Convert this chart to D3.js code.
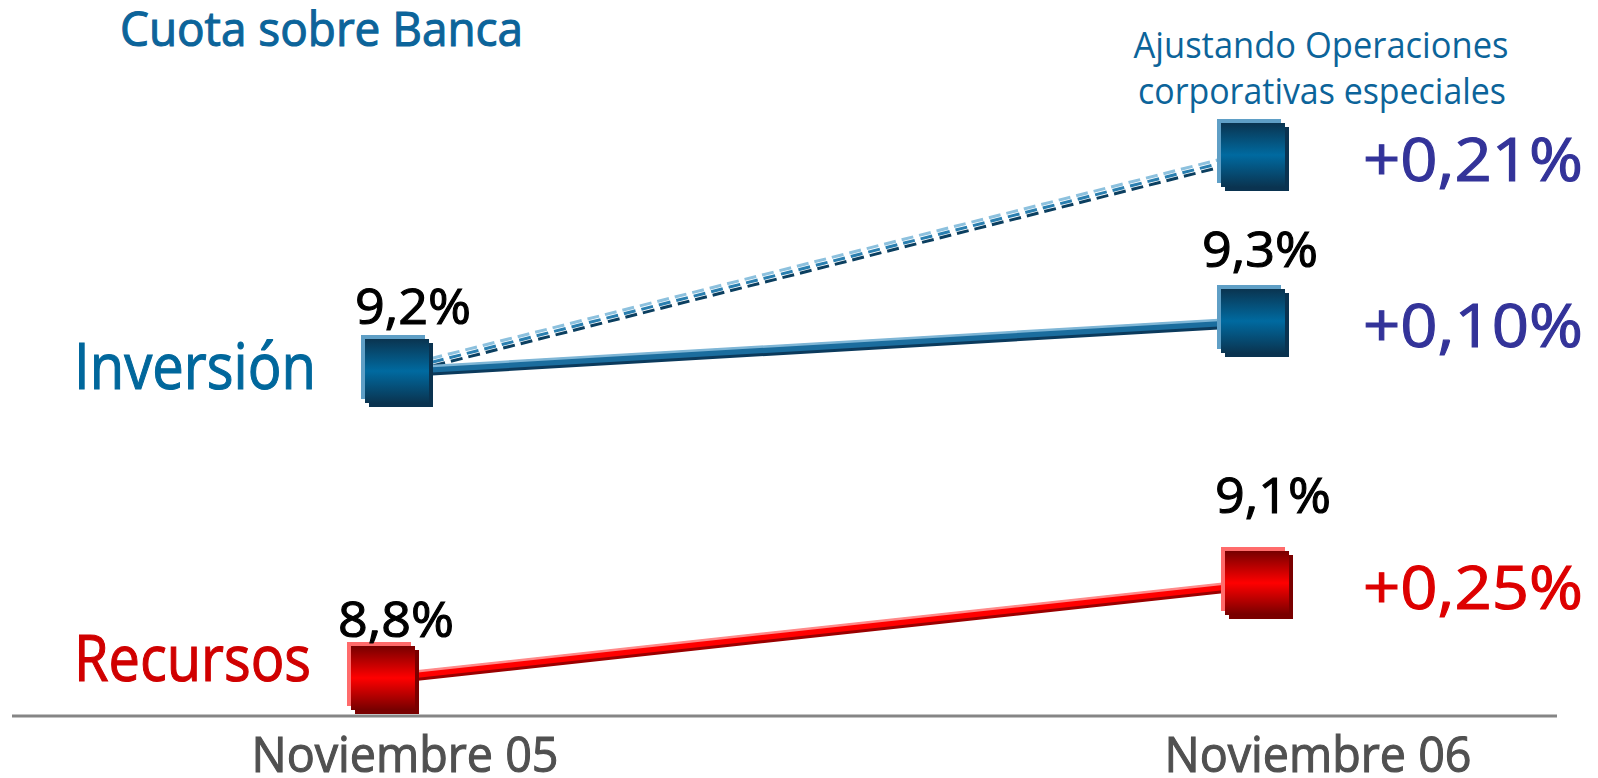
<!DOCTYPE html>
<html>
<head>
<meta charset="utf-8">
<script src="https://cdn.jsdelivr.net/npm/d3@7"></script>
<style>
  body { margin: 0; background: #fff; }
  text { font-family: "Open Sans", "Noto Sans", sans-serif; }
  .heavy { stroke-width: 1.1px; paint-order: stroke; }
</style>
</head>
<body>
<div id="drawingArea"></div>
<script>
// data
var periods = ["Noviembre 05", "Noviembre 06"];
var inversion = [9.2, 9.3];
var inversionAjustada = [9.2, 9.41];   // 9,2% + 0,21 pp
var recursos = [8.8, 9.1];
var valueLabels = { inversion: ["9,2%", "9,3%"], recursos: ["8,8%", "9,1%"] };
var deltaLabels = { ajustada: "+0,21%", inversion: "+0,10%", recursos: "+0,25%" };

var width = 1598, height = 778;

var svg = d3.select("#drawingArea").append("svg")
    .attr("width", width)
    .attr("height", height);

// x positions of the two dates
var x = d3.scalePoint().domain(periods).range([397, 1253]);
var xRec = x.copy().range([383, 1257]);

// the slide is not drawn to scale, so the y scale is piecewise
var y = d3.scaleLinear()
    .domain([8.8, 9.1, 9.2, 9.3, 9.41])
    .range([678, 583, 371, 321, 155]);

// gradients for the square markers
var defs = svg.append("defs");
function grad(id, edge, mid) {
    var g = defs.append("linearGradient").attr("id", id)
        .attr("x1", 0).attr("y1", 0).attr("x2", 0).attr("y2", 1);
    g.append("stop").attr("offset", "0%").attr("stop-color", edge);
    g.append("stop").attr("offset", "50%").attr("stop-color", mid);
    g.append("stop").attr("offset", "100%").attr("stop-color", edge);
}
grad("gBlue", "#0a3450", "#006aa0");
grad("gRed", "#760000", "#ff0000");

// axis line
svg.append("line")
    .attr("x1", 12).attr("x2", 1557)
    .attr("y1", 716).attr("y2", 716)
    .attr("stroke", "#858585").attr("stroke-width", 3);

// axis labels
svg.selectAll(".xlab").data(periods).enter().append("text")
    .attr("class", "xlab heavy")
    .attr("x", function(d, i) { return x(d) + (i === 0 ? 8 : 65); })
    .attr("y", 772)
    .attr("text-anchor", "middle")
    .attr("font-size", 50)
    .attr("fill", "#505050")
    .attr("stroke", "#505050")
    .attr("textLength", 307)
    .attr("lengthAdjust", "spacingAndGlyphs")
    .text(function(d) { return d; });

function seriesPts(vals, xs) {
    return vals.map(function(v, i) { return [xs(periods[i]), y(v)]; });
}
var line = d3.line();

// dashed "ajustando" line: three thin dashed strands
var ajPts = seriesPts(inversionAjustada, x);
[[-3.5, -1.5, "#8dc1de"], [0, 0, "#2a7fb0"], [3.5, 1.5, "#0b3f60"]].forEach(function(s) {
    svg.append("path")
        .attr("d", line(ajPts))
        .attr("transform", "translate(" + s[1] + "," + s[0] + ")")
        .attr("fill", "none")
        .attr("stroke", s[2])
        .attr("stroke-width", 3)
        .attr("stroke-dasharray", "12,6");
});

// solid lines drawn as three strokes to fake the bevel
function bevelLine(pts, dark, main, light) {
    svg.append("path").attr("d", line(pts)).attr("transform", "translate(0,2.5)")
        .attr("fill", "none").attr("stroke", dark).attr("stroke-width", 8);
    svg.append("path").attr("d", line(pts))
        .attr("fill", "none").attr("stroke", main).attr("stroke-width", 7);
    svg.append("path").attr("d", line(pts)).attr("transform", "translate(0,-3)")
        .attr("fill", "none").attr("stroke", light).attr("stroke-width", 2.5);
}
var invPts = seriesPts(inversion, x);
var recPts = seriesPts(recursos, xRec);
bevelLine(invPts, "#0b3a5c", "#1b6d9e", "#7fb6d6");
bevelLine(recPts, "#9a0000", "#ff0000", "#ff8a8a");

// square markers
function markers(pts, fillId, light, shadow) {
    var s = 64;
    var g = svg.append("g").selectAll("g").data(pts).enter().append("g")
        .attr("transform", function(d) { return "translate(" + d[0] + "," + d[1] + ")"; });
    g.append("rect").attr("x", -s/2 - 4).attr("y", -s/2 - 4).attr("width", s).attr("height", s).attr("fill", light);
    g.append("rect").attr("x", -s/2 + 4).attr("y", -s/2 + 4).attr("width", s).attr("height", s).attr("fill", shadow);
    g.append("rect").attr("x", -s/2).attr("y", -s/2).attr("width", s).attr("height", s).attr("fill", "url(#" + fillId + ")");
}
markers([invPts[0]], "gBlue", "#5f9fc6", "#0a3350");
markers([invPts[1], ajPts[1]], "gBlue", "#5f9fc6", "#0a3350");
markers(recPts, "gRed", "#ff6b6b", "#7a0000");

// value labels above the markers
var labelShift = { inversion: [[16, -47], [7, -54]], recursos: [[13, -41], [16, -70]] };
function valueText(pts, labels, shift) {
    svg.append("g").selectAll("text").data(pts).enter().append("text")
        .attr("class", "heavy")
        .attr("x", function(d, i) { return d[0] + shift[i][0]; })
        .attr("y", function(d, i) { return d[1] + shift[i][1]; })
        .attr("text-anchor", "middle")
        .attr("font-size", 50)
        .attr("fill", "#000")
        .attr("stroke", "#000")
        .attr("textLength", 116)
        .attr("lengthAdjust", "spacingAndGlyphs")
        .text(function(d, i) { return labels[i]; });
}
valueText(invPts, valueLabels.inversion, labelShift.inversion);
valueText(recPts, valueLabels.recursos, labelShift.recursos);

// change labels on the right
function deltaText(pt, label, color) {
    svg.append("text")
        .attr("class", "heavy")
        .attr("x", 1363)
        .attr("y", pt[1] + 26)
        .attr("font-size", 60)
        .attr("fill", color)
        .attr("stroke", color)
        .attr("textLength", 220)
        .attr("lengthAdjust", "spacingAndGlyphs")
        .text(label);
}
deltaText(ajPts[1], deltaLabels.ajustada, "#333399");
deltaText(invPts[1], deltaLabels.inversion, "#333399");
deltaText(recPts[1], deltaLabels.recursos, "#dd0000");

// series names
svg.append("text")
    .attr("class", "heavy")
    .attr("x", 74).attr("y", invPts[0][1] + 18)
    .attr("font-size", 64).attr("fill", "#00679c").attr("stroke", "#00679c")
    .attr("textLength", 242).attr("lengthAdjust", "spacingAndGlyphs")
    .text("Inversión");
svg.append("text")
    .attr("class", "heavy")
    .attr("x", 74).attr("y", recPts[0][1] + 3)
    .attr("font-size", 64).attr("fill", "#d00000").attr("stroke", "#d00000")
    .attr("textLength", 237).attr("lengthAdjust", "spacingAndGlyphs")
    .text("Recursos");

// title and note
svg.append("text")
    .attr("class", "heavy")
    .attr("x", 120).attr("y", 46)
    .attr("font-size", 48).attr("fill", "#0c649a").attr("stroke", "#0c649a")
    .attr("textLength", 403).attr("lengthAdjust", "spacingAndGlyphs")
    .text("Cuota sobre Banca");

svg.append("text")
    .attr("x", 1321).attr("y", 58)
    .attr("text-anchor", "middle")
    .attr("font-size", 36).attr("fill", "#0c649a")
    .attr("textLength", 375).attr("lengthAdjust", "spacingAndGlyphs")
    .text("Ajustando Operaciones");
svg.append("text")
    .attr("x", 1322).attr("y", 104)
    .attr("text-anchor", "middle")
    .attr("font-size", 36).attr("fill", "#0c649a")
    .attr("textLength", 368).attr("lengthAdjust", "spacingAndGlyphs")
    .text("corporativas especiales");
</script>
</body>
</html>
